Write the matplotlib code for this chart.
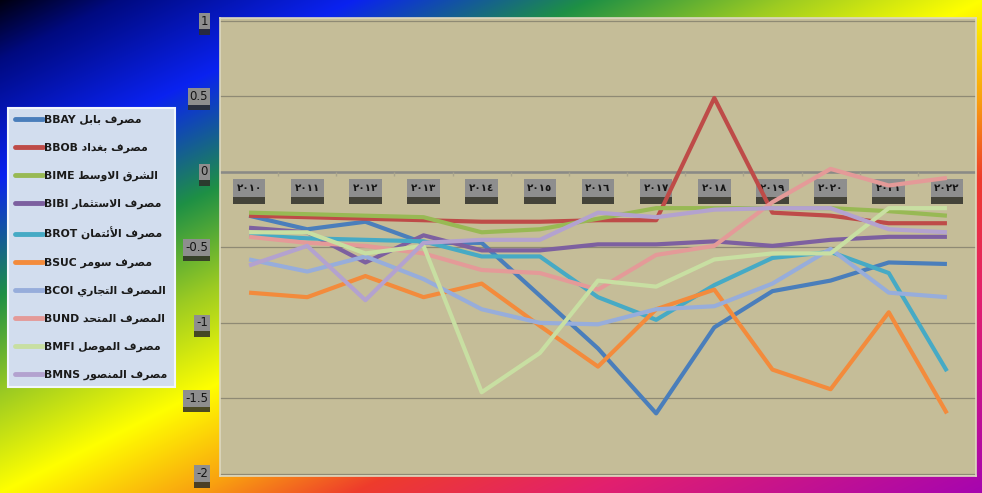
import numpy as np
import matplotlib
matplotlib.use("Agg")
import matplotlib.pyplot as plt
import matplotlib.patheffects as pe

# ---------------- data ----------------
years = ['٢٠١٠', '٢٠١١', '٢٠١٢', '٢٠١٣', '٢٠١٤', '٢٠١٥', '٢٠١٦',
         '٢٠١٧', '٢٠١٨', '٢٠١٩', '٢٠٢٠', '٢٠٢١', '٢٠٢٢']
codes = ['BBAY', 'BBOB', 'BIME', 'BIBI', 'BROT', 'BSUC', 'BCOI', 'BUND', 'BMFI', 'BMNS']
names = ['مصرف بابل', 'مصرف بغداد', 'الشرق الاوسط', 'مصرف الاستثمار', 'مصرف الأئتمان',
         'مصرف سومر', 'المصرف التجاري', 'المصرف المتحد', 'مصرف الموصل', 'مصرف المنصور']

BBAY = [-0.29, -0.38, -0.33, -0.47, -0.47, -0.82, -1.17, -1.60, -1.03, -0.79, -0.72, -0.60, -0.61]
BBOB = [-0.29, -0.30, -0.31, -0.32, -0.33, -0.33, -0.32, -0.32, 0.49, -0.27, -0.29, -0.34, -0.34]
BIME = [-0.27, -0.28, -0.29, -0.30, -0.40, -0.38, -0.31, -0.24, -0.24, -0.24, -0.24, -0.26, -0.29]
BIBI = [-0.37, -0.40, -0.60, -0.42, -0.52, -0.52, -0.48, -0.48, -0.46, -0.49, -0.45, -0.43, -0.43]
BROT = [-0.42, -0.44, -0.45, -0.46, -0.56, -0.56, -0.83, -0.98, -0.75, -0.57, -0.53, -0.67, -1.32]
BSUC = [-0.80, -0.83, -0.69, -0.83, -0.74, -1.02, -1.29, -0.91, -0.78, -1.31, -1.44, -0.93, -1.60]
BCOI = [-0.58, -0.66, -0.56, -0.71, -0.91, -1.00, -1.01, -0.91, -0.89, -0.74, -0.51, -0.80, -0.83]
BUND = [-0.43, -0.47, -0.49, -0.54, -0.65, -0.67, -0.78, -0.55, -0.49, -0.20, 0.02, -0.09, -0.04]
BMFI = [-0.40, -0.40, -0.54, -0.49, -1.46, -1.20, -0.72, -0.76, -0.58, -0.54, -0.54, -0.24, -0.24]
BMNS = [-0.62, -0.49, -0.85, -0.47, -0.45, -0.45, -0.27, -0.30, -0.25, -0.24, -0.24, -0.38, -0.40]
series = [BBAY, BBOB, BIME, BIBI, BROT, BSUC, BCOI, BUND, BMFI, BMNS]

colors = ['#4A7EBB', '#BE4B48', '#98B954', '#7D60A0', '#46AAC5', '#F38B3C',
          '#97ADDB', '#E49A98', '#C8DFA2', '#B3A2CF']

yticks = [1, 0.5, 0, -0.5, -1, -1.5, -2]
ytick_labels = ['1', '0.5', '0', '-0.5', '-1', '-1.5', '-2']

# ---------------- minimal Arabic shaping ----------------
FORMS = {
    'ء': (0xFE80, None, None, None), 'آ': (0xFE81, 0xFE82, None, None),
    'أ': (0xFE83, 0xFE84, None, None), 'ؤ': (0xFE85, 0xFE86, None, None),
    'إ': (0xFE87, 0xFE88, None, None), 'ئ': (0xFE89, 0xFE8A, 0xFE8B, 0xFE8C),
    'ا': (0xFE8D, 0xFE8E, None, None), 'ب': (0xFE8F, 0xFE90, 0xFE91, 0xFE92),
    'ة': (0xFE93, 0xFE94, None, None), 'ت': (0xFE95, 0xFE96, 0xFE97, 0xFE98),
    'ث': (0xFE99, 0xFE9A, 0xFE9B, 0xFE9C), 'ج': (0xFE9D, 0xFE9E, 0xFE9F, 0xFEA0),
    'ح': (0xFEA1, 0xFEA2, 0xFEA3, 0xFEA4), 'خ': (0xFEA5, 0xFEA6, 0xFEA7, 0xFEA8),
    'د': (0xFEA9, 0xFEAA, None, None), 'ذ': (0xFEAB, 0xFEAC, None, None),
    'ر': (0xFEAD, 0xFEAE, None, None), 'ز': (0xFEAF, 0xFEB0, None, None),
    'س': (0xFEB1, 0xFEB2, 0xFEB3, 0xFEB4), 'ش': (0xFEB5, 0xFEB6, 0xFEB7, 0xFEB8),
    'ص': (0xFEB9, 0xFEBA, 0xFEBB, 0xFEBC), 'ض': (0xFEBD, 0xFEBE, 0xFEBF, 0xFEC0),
    'ط': (0xFEC1, 0xFEC2, 0xFEC3, 0xFEC4), 'ظ': (0xFEC5, 0xFEC6, 0xFEC7, 0xFEC8),
    'ع': (0xFEC9, 0xFECA, 0xFECB, 0xFECC), 'غ': (0xFECD, 0xFECE, 0xFECF, 0xFED0),
    'ف': (0xFED1, 0xFED2, 0xFED3, 0xFED4), 'ق': (0xFED5, 0xFED6, 0xFED7, 0xFED8),
    'ك': (0xFED9, 0xFEDA, 0xFEDB, 0xFEDC), 'ل': (0xFEDD, 0xFEDE, 0xFEDF, 0xFEE0),
    'م': (0xFEE1, 0xFEE2, 0xFEE3, 0xFEE4), 'ن': (0xFEE5, 0xFEE6, 0xFEE7, 0xFEE8),
    'ه': (0xFEE9, 0xFEEA, 0xFEEB, 0xFEEC), 'و': (0xFEED, 0xFEEE, None, None),
    'ى': (0xFEEF, 0xFEF0, None, None), 'ي': (0xFEF1, 0xFEF2, 0xFEF3, 0xFEF4),
}
LAMALEF = {'ا': (0xFEFB, 0xFEFC), 'أ': (0xFEF7, 0xFEF8),
           'إ': (0xFEF9, 0xFEFA), 'آ': (0xFEF5, 0xFEF6)}


def joins_left(c):
    return c in FORMS and FORMS[c][2] is not None


def shape_word(w):
    out = []
    i = 0
    n = len(w)
    while i < n:
        c = w[i]
        prev = w[i - 1] if i > 0 else None
        prev_conn = prev is not None and joins_left(prev)
        if c == 'ل' and i + 1 < n and w[i + 1] in LAMALEF:
            iso, fin = LAMALEF[w[i + 1]]
            out.append(chr(fin if prev_conn else iso))
            i += 2
            continue
        if c not in FORMS:
            out.append(c)
            i += 1
            continue
        nxt = w[i + 1] if i + 1 < n else None
        next_conn = joins_left(c) and nxt is not None and nxt in FORMS
        iso, fin, ini, med = FORMS[c]
        if prev_conn and next_conn:
            g = med
        elif prev_conn:
            g = fin
        elif next_conn:
            g = ini
        else:
            g = iso
        out.append(chr(g))
        i += 1
    return ''.join(reversed(out))


def visual_arabic(s):
    return ' '.join(shape_word(w) for w in reversed(s.split(' ')))


def add_shadow(txt, dy):
    patch = txt.get_bbox_patch()
    patch.set_path_effects([pe.SimplePatchShadow(offset=(0, dy), shadow_rgbFace='#2E2E28', alpha=0.85),
                            pe.Normal()])


# ---------------- figure ----------------
W, H = 982, 493
fig = plt.figure(figsize=(W / 100, H / 100), dpi=100)

# rainbow diagonal background
bg = fig.add_axes([0, 0, 1, 1], zorder=0)
xx, yy = np.meshgrid(np.linspace(0, 1, W), np.linspace(0, 1, H))
t = (xx + yy) / 2.0
stops = [0.0, 0.06, 0.18, 0.30, 0.40, 0.50, 0.60, 0.68, 0.80, 1.0]
cols = ['#000010', '#000A80', '#0A22F0', '#1E9045', '#9CCB22', '#FFFF00',
        '#F9A010', '#EE3C2C', '#E2206E', '#A605B0']
rgb = np.array([matplotlib.colors.to_rgb(c) for c in cols])
img = np.stack([np.interp(t, stops, rgb[:, k]) for k in range(3)], axis=-1)
bg.imshow(img, aspect='auto', extent=(0, 1, 0, 1), origin='upper')
bg.set_axis_off()

# main plot area
left, right, top, bottom = 220, 976, 18, 476
ax = fig.add_axes([left / W, 1 - bottom / H, (right - left) / W, (bottom - top) / H], zorder=1)
ax.set_facecolor('#C5BD98')
x = np.arange(len(years))
ax.set_xlim(-0.5, len(years) - 0.5)
ax.set_ylim(-2.015, 1.02)
ax.set_yticks(yticks)
ax.set_yticklabels([])
ax.set_xticks([])
ax.tick_params(axis='y', length=0)
ax.grid(axis='y', color='#8F8A74', lw=0.9)
ax.set_axisbelow(True)
for s in ax.spines.values():
    s.set_color('#DDD8C0')
    s.set_linewidth(1.2)

# category axis at y = 0
ax.axhline(0, color='#8A8A86', lw=1.8, zorder=1.5)
ax.vlines(x[:-1] + 0.5, -0.025, 0, color='#A9A48C', lw=1.0, zorder=1.5)

# x category labels (boxes with shadow)
for i, lab in enumerate(years):
    tx = ax.annotate(lab, xy=(i, 0), xytext=(0, -16), textcoords='offset pixels',
                     ha='center', va='center', fontsize=7.5, fontweight='bold', color='#151515',
                     family='DejaVu Sans',
                     bbox=dict(boxstyle='square,pad=0.35', fc='#8E8E8E', ec='none'),
                     zorder=1.7, annotation_clip=False)
    add_shadow(tx, -5)

# y labels (boxes with shadow)
for v, lab in zip(yticks, ytick_labels):
    tx = ax.annotate(lab, xy=(0, v), xycoords=ax.get_yaxis_transform(), xytext=(-12, 0),
                     textcoords='offset pixels', ha='right', va='center', fontsize=8.5,
                     color='#151515', bbox=dict(boxstyle='square,pad=0.15', fc='#8E8E8E', ec='none'),
                     annotation_clip=False, zorder=3.1)
    add_shadow(tx, -4)

# series lines
handles = []
for vals, c in zip(series, colors):
    ln, = ax.plot(x, vals, color=c, lw=3.0, solid_joinstyle='round', solid_capstyle='butt', zorder=2)
    handles.append(ln)

labels = [code + ' ' + visual_arabic(nm) for code, nm in zip(codes, names)]
leg = fig.legend(handles, labels, loc='upper left',
                 bbox_to_anchor=(8 / W, 1 - 108 / H), frameon=True,
                 prop=dict(family='DejaVu Sans', size=7.8, weight='bold'),
                 handlelength=2.6, handletextpad=0.1, labelspacing=1.63,
                 borderpad=0.65, borderaxespad=0)
leg.get_frame().set_facecolor('#D2DDEE')
leg.get_frame().set_edgecolor('#F2F6FC')
leg.get_frame().set_linewidth(1.5)
leg.get_frame().set_alpha(1)
leg.get_frame().set_boxstyle('square', pad=0)
leg.set_zorder(5)
for lh in leg.legend_handles:
    lh.set_linewidth(3.5)
    lh.set_solid_capstyle('round')
for tx in leg.get_texts():
    tx.set_color('#1A1A1A')

fig.savefig('out.png', dpi=100)
